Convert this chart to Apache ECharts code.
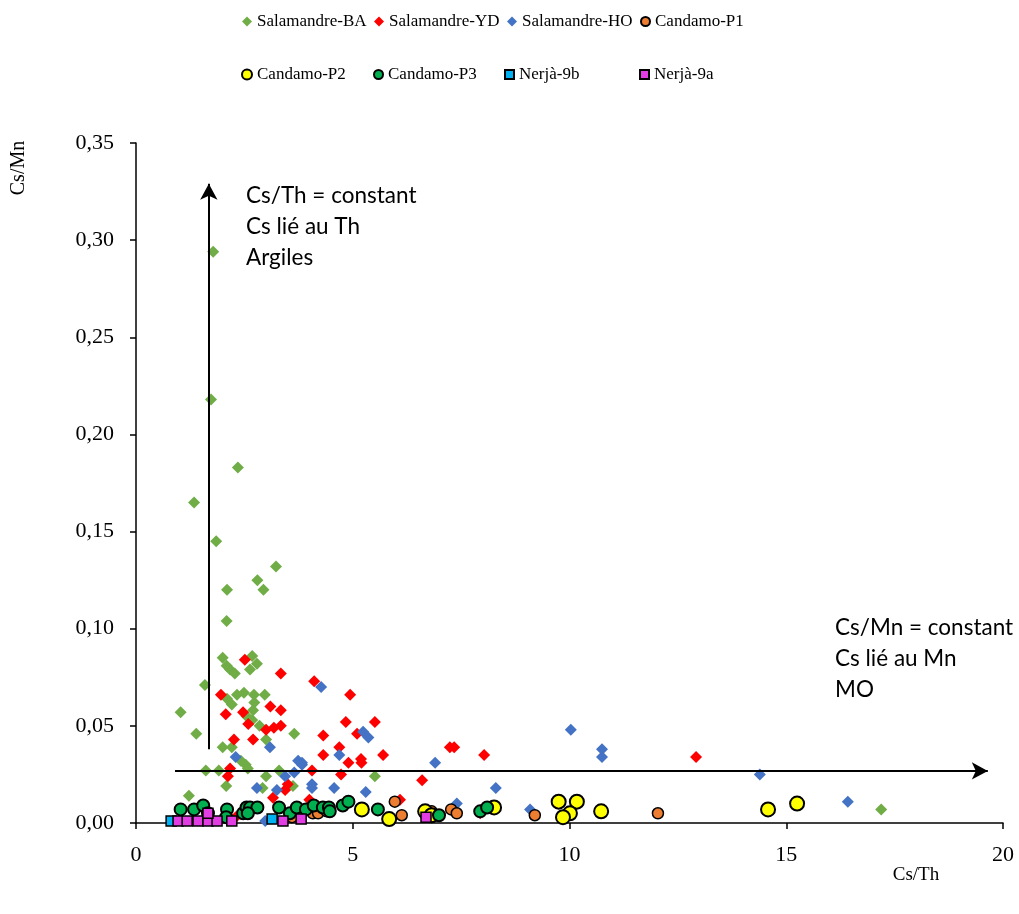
<!DOCTYPE html>
<html>
<head>
<meta charset="utf-8">
<script src="https://cdn.jsdelivr.net/npm/echarts@6/dist/echarts.min.js"></script>
<style>html,body{margin:0;padding:0;background:#fff}#c{width:1019px;height:914px}</style>
</head>
<body>
<div id="c"></div>
<script>
// ---- data: [Cs/Th, Cs/Mn] ----
const salamandreBA = [[1.78,0.294],[1.73,0.218],[1.34,0.165],[2.35,0.183],[1.85,0.145],[3.23,0.132],[2.80,0.125],[2.94,0.120],[2.10,0.120],[2.09,0.104],[2.00,0.085],[2.09,0.081],[2.17,0.079],[2.28,0.077],[2.68,0.086],[2.79,0.082],[2.63,0.079],[1.59,0.071],[2.10,0.064],[2.33,0.066],[2.49,0.067],[2.72,0.066],[2.97,0.066],[1.03,0.057],[1.39,0.046],[2.21,0.061],[2.70,0.058],[2.73,0.062],[2.68,0.053],[3.65,0.046],[2.00,0.039],[2.21,0.039],[3.00,0.043],[2.42,0.032],[2.53,0.030],[2.58,0.028],[1.61,0.027],[1.91,0.027],[2.08,0.019],[3.00,0.024],[2.92,0.018],[3.62,0.019],[1.22,0.014],[5.51,0.024],[17.19,0.007],[2.55,0.055],[2.85,0.050],[3.30,0.027]];
const salamandreYD = [[2.51,0.084],[3.34,0.077],[1.96,0.066],[2.47,0.057],[3.34,0.058],[3.10,0.060],[2.59,0.051],[3.00,0.048],[3.18,0.049],[3.34,0.050],[2.26,0.043],[2.70,0.043],[2.17,0.028],[2.12,0.024],[3.16,0.013],[3.44,0.017],[2.07,0.056],[4.11,0.073],[4.94,0.066],[4.84,0.052],[5.51,0.052],[5.10,0.046],[4.32,0.045],[4.69,0.039],[4.32,0.035],[4.90,0.031],[5.19,0.033],[5.20,0.031],[5.70,0.035],[7.24,0.039],[7.34,0.039],[8.03,0.035],[4.06,0.027],[4.73,0.025],[6.60,0.022],[6.09,0.012],[7.94,0.005],[12.92,0.034],[2.30,0.003],[4.00,0.012],[3.50,0.020]];
const salamandreHO = [[3.09,0.039],[2.30,0.034],[2.79,0.018],[3.25,0.017],[3.44,0.024],[3.74,0.032],[3.83,0.030],[3.65,0.026],[4.27,0.070],[5.24,0.047],[5.36,0.044],[4.69,0.035],[6.90,0.031],[4.06,0.020],[4.06,0.018],[4.57,0.018],[5.30,0.016],[7.40,0.010],[10.03,0.048],[10.75,0.038],[10.75,0.034],[8.30,0.018],[9.09,0.007],[14.39,0.025],[16.42,0.011],[2.98,0.001],[3.83,0.031],[4.10,0.005]];
const candamoP1 = [[4.08,0.005],[4.20,0.005],[4.40,0.006],[5.97,0.011],[6.13,0.004],[6.82,0.006],[6.70,0.004],[7.27,0.007],[7.40,0.005],[9.20,0.004],[12.04,0.005],[3.60,0.003],[2.60,0.006]];
const candamoP2 = [[5.21,0.007],[5.84,0.002],[6.67,0.006],[6.82,0.004],[8.26,0.008],[9.75,0.011],[10.17,0.011],[10.01,0.005],[9.85,0.003],[10.73,0.006],[14.58,0.007],[15.25,0.010]];
const candamoP3 = [[1.03,0.007],[1.34,0.007],[1.55,0.009],[1.66,0.005],[2.10,0.007],[2.08,0.003],[2.47,0.005],[2.55,0.008],[2.63,0.008],[2.80,0.008],[2.58,0.005],[3.30,0.008],[3.55,0.005],[3.71,0.008],[3.92,0.007],[4.10,0.009],[4.31,0.008],[4.45,0.008],[4.47,0.006],[4.77,0.009],[4.90,0.011],[5.58,0.007],[6.99,0.004],[7.94,0.006],[8.10,0.008]];
const nerja9b = [[0.81,0.001],[3.14,0.002]];
const nerja9a = [[0.97,0.001],[1.18,0.001],[1.43,0.001],[1.66,0.001],[1.87,0.001],[2.21,0.001],[1.66,0.005],[3.39,0.001],[3.81,0.002],[6.69,0.003]];

const arrowVertical = [[1.68, 0.038], [1.68, 0.329]];
const arrowHorizontal = [[0.9, 0.0268], [19.65, 0.0268]];

const xTicks = { min: 0, max: 20, interval: 5 };
const yTicks = { min: 0, max: 0.35, interval: 0.05 };

const seriesNames = ['Salamandre-BA','Salamandre-YD','Salamandre-HO','Candamo-P1','Candamo-P2','Candamo-P3','Nerjà-9b','Nerjà-9a'];
const seriesData = [salamandreBA, salamandreYD, salamandreHO, candamoP1, candamoP2, candamoP3, nerja9b, nerja9a];

// ---- styles ----
const styles = [
  { symbol: 'diamond', size: 12, color: '#70AD47', bw: 0, icon: 10 },
  { symbol: 'diamond', size: 12, color: '#FF0000', bw: 0, icon: 10 },
  { symbol: 'diamond', size: 12, color: '#4472C4', bw: 0, icon: 10 },
  { symbol: 'circle', size: 11, color: '#ED7D31', bw: 1.5, icon: 9 },
  { symbol: 'circle', size: 14, color: '#FFFF00', bw: 2, icon: 10 },
  { symbol: 'circle', size: 12, color: '#00B050', bw: 2, icon: 9 },
  { symbol: 'rect', size: 10, color: '#00B0F0', bw: 1.5, icon: 9 },
  { symbol: 'rect', size: 10, color: '#E23DE3', bw: 1.5, icon: 9 }
];
const legendPos = [
  { left: 242, top: 13 }, { left: 374, top: 13 }, { left: 507, top: 13 }, { left: 640, top: 13 },
  { left: 241, top: 66 }, { left: 373, top: 66 }, { left: 504, top: 66 }, { left: 639, top: 66 }
];
const serif = 'Liberation Serif';

const series = seriesNames.map((n, i) => ({
  name: n, type: 'scatter', data: seriesData[i],
  symbol: styles[i].symbol, symbolSize: styles[i].size,
  itemStyle: { color: styles[i].color, borderColor: '#000', borderWidth: styles[i].bw, opacity: 1 },
  emphasis: { disabled: true }, z: 2 + i
}));
series.push({
  type: 'scatter', data: [], silent: true, z: 1,
  markLine: {
    silent: true, animation: false, symbol: ['none', 'arrow'], symbolSize: [13, 16],
    lineStyle: { color: '#000', width: 2, type: 'solid' }, label: { show: false },
    emphasis: { disabled: true },
    data: [
      [{ coord: arrowVertical[0] }, { coord: arrowVertical[1] }],
      [{ coord: arrowHorizontal[0] }, { coord: arrowHorizontal[1] }]
    ]
  }
});

const legends = seriesNames.map((n, i) => ({
  data: [n], left: legendPos[i].left, top: legendPos[i].top, orient: 'horizontal',
  itemWidth: styles[i].icon, itemHeight: styles[i].icon, selectedMode: false, padding: 0,
  textStyle: { fontFamily: serif, fontSize: 17, color: '#000', padding: [2, 0, 0, 0] }
}));

const chart = echarts.init(document.getElementById('c'), null, { renderer: 'canvas' });
chart.setOption({
  animation: false,
  backgroundColor: '#fff',
  legend: legends,
  grid: { left: 136, right: 16, top: 143, bottom: 91, containLabel: false },
  xAxis: {
    type: 'value', min: xTicks.min, max: xTicks.max, interval: xTicks.interval,
    axisLine: { show: true, onZero: false, lineStyle: { color: '#000', width: 1.5 } },
    axisTick: { show: true, inside: false, length: 6, lineStyle: { color: '#000', width: 1.5 } },
    splitLine: { show: false },
    axisLabel: { color: '#000', fontFamily: serif, fontSize: 22, margin: 21 }
  },
  yAxis: {
    type: 'value', min: yTicks.min, max: yTicks.max, interval: yTicks.interval,
    axisLine: { show: true, onZero: false, lineStyle: { color: '#000', width: 1.5 } },
    axisTick: { show: true, inside: false, length: 6, lineStyle: { color: '#000', width: 1.5 } },
    splitLine: { show: false },
    axisLabel: { color: '#000', fontFamily: serif, fontSize: 22, margin: 22,
      formatter: v => v.toFixed(2).replace('.', ',') }
  },
  graphic: [
    { type: 'text', x: 19, y: 168, rotation: Math.PI / 2,
      style: { text: 'Cs/Mn', font: '20px "Liberation Serif"', fill: '#000', align: 'center', verticalAlign: 'middle' } },
    { type: 'text', x: 916, y: 875,
      style: { text: 'Cs/Th', font: '19px "Liberation Serif"', fill: '#000', align: 'center', verticalAlign: 'middle' } },
    { type: 'text', left: 246, top: 180,
      style: { text: 'Cs/Th = constant\nCs lié au Th\nArgiles', font: '22.5px Lato', lineHeight: 31, fill: '#000' } },
    { type: 'text', left: 835, top: 612,
      style: { text: 'Cs/Mn = constant\nCs lié au Mn\nMO', font: '22.5px Lato', lineHeight: 31, fill: '#000' } }
  ],
  series: series
});
</script>
</body>
</html>
